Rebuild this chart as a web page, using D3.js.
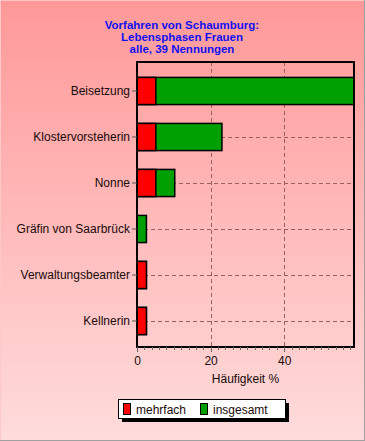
<!DOCTYPE html>
<html>
<head>
<meta charset="utf-8">
<script src="https://cdn.jsdelivr.net/npm/d3@7"></script>
<style>
  body { margin: 0; padding: 0; overflow: hidden; }
  svg { display: block; font-family: "Liberation Sans", Arial, sans-serif; }
</style>
</head>
<body>
<div id="chart"></div>
<script>
var titleLines = ["Vorfahren von Schaumburg:", "Lebensphasen Frauen", "alle, 39 Nennungen"];
var categories = ["Beisetzung", "Klostervorsteherin", "Nonne", "Gräfin von Saarbrück", "Verwaltungsbeamter", "Kellnerin"];
var insgesamt = [58.97, 23.08, 10.26, 2.56, 2.56, 2.56];
var mehrfach = [5.13, 5.13, 5.13, 0, 2.56, 2.56];
var xTicks = [0, 20, 40];
var seriesNames = ["mehrfach", "insgesamt"];
var xTitle = "Häufigkeit %";

var width = 365, height = 441;
var plot = {left: 137, top: 62, right: 354, bottom: 347};

var svg = d3.select("#chart").append("svg")
    .attr("width", width)
    .attr("height", height);

// background gradient
var grad = svg.append("defs").append("linearGradient")
    .attr("id", "bg").attr("x1", 0).attr("y1", 0).attr("x2", 0).attr("y2", 1);
grad.append("stop").attr("offset", "0%").attr("stop-color", "#ff9898");
grad.append("stop").attr("offset", "100%").attr("stop-color", "#ffdcdc");

svg.append("rect").attr("width", width).attr("height", height).attr("fill", "url(#bg)");
svg.append("line").attr("x1", 0).attr("y1", 0.5).attr("x2", width).attr("y2", 0.5).attr("stroke", "#ffc8c8");
svg.append("line").attr("x1", 0.5).attr("y1", 0).attr("x2", 0.5).attr("y2", height).attr("stroke", "#ffc8c8");
svg.append("line").attr("x1", width - 0.5).attr("y1", 0).attr("x2", width - 0.5).attr("y2", height).attr("stroke", "#a0a0a0");
svg.append("line").attr("x1", 0).attr("y1", height - 0.5).attr("x2", width).attr("y2", height - 0.5).attr("stroke", "#a0a0a0");

// title
svg.append("text")
    .attr("text-anchor", "middle")
    .attr("font-size", 11.5)
    .attr("font-weight", "bold")
    .attr("fill", "#1010f0")
    .selectAll("tspan")
    .data(titleLines)
    .enter().append("tspan")
    .attr("x", 182)
    .attr("y", function(d, i) { return 29 + i * 12; })
    .text(function(d) { return d; });

var x = d3.scaleLinear()
    .domain([0, d3.max(insgesamt)])
    .range([plot.left, plot.right]);

var y = d3.scaleBand()
    .domain(categories)
    .range([68, 344])
    .paddingInner(0.41)
    .paddingOuter(0.205);

var g = svg.append("g");

// grid lines
g.selectAll(".vgrid")
    .data(xTicks.filter(function(d) { return d > 0; }))
    .enter().append("line")
    .attr("x1", function(d) { return Math.round(x(d)) + 0.5; })
    .attr("x2", function(d) { return Math.round(x(d)) + 0.5; })
    .attr("y1", plot.top).attr("y2", plot.bottom)
    .attr("stroke", "#9a6060").attr("stroke-dasharray", "4,3");

g.selectAll(".hgrid")
    .data(categories)
    .enter().append("line")
    .attr("x1", plot.left).attr("x2", plot.right)
    .attr("y1", function(d) { return Math.round(y(d) + y.bandwidth() / 2) + 0.5; })
    .attr("y2", function(d) { return Math.round(y(d) + y.bandwidth() / 2) + 0.5; })
    .attr("stroke", "#9a6060").attr("stroke-dasharray", "4,3");

// bars: total first, multiple drawn on top
var rows = categories.map(function(c, i) { return {cat: c, total: insgesamt[i], multi: mehrfach[i]}; });

g.selectAll(".bar-total")
    .data(rows)
    .enter().append("rect")
    .attr("x", x(0))
    .attr("y", function(d) { return y(d.cat); })
    .attr("width", function(d) { return x(d.total) - x(0); })
    .attr("height", y.bandwidth())
    .attr("fill", "#00a000")
    .attr("stroke", "#000")
    .attr("stroke-width", 1.5);

g.selectAll(".bar-multi")
    .data(rows.filter(function(d) { return d.multi > 0; }))
    .enter().append("rect")
    .attr("x", x(0))
    .attr("y", function(d) { return y(d.cat); })
    .attr("width", function(d) { return x(d.multi) - x(0); })
    .attr("height", y.bandwidth())
    .attr("fill", "#ff0000")
    .attr("stroke", "#000")
    .attr("stroke-width", 1.5);

// plot frame
svg.append("rect")
    .attr("x", plot.left).attr("y", plot.top)
    .attr("width", plot.right - plot.left).attr("height", plot.bottom - plot.top)
    .attr("fill", "none").attr("stroke", "#000").attr("stroke-width", 2);

// y axis
var yAxis = svg.append("g")
    .attr("transform", "translate(" + plot.left + ",0)")
    .call(d3.axisLeft(y).tickSize(5).tickPadding(2).tickSizeOuter(0));
yAxis.select(".domain").remove();
yAxis.selectAll(".tick line").attr("stroke", "#555");
yAxis.selectAll("text")
    .attr("font-size", 12)
    .attr("font-family", "Liberation Sans, Arial, sans-serif")
    .attr("fill", "#1a0a0a");

// x axis, minor ticks every 2
var minor = d3.range(0, d3.max(insgesamt), 2);
svg.append("g")
    .attr("transform", "translate(0," + plot.bottom + ")")
    .selectAll("line")
    .data(minor)
    .enter().append("line")
    .attr("x1", function(d) { return Math.round(x(d)) + 0.5; })
    .attr("x2", function(d) { return Math.round(x(d)) + 0.5; })
    .attr("y1", 0)
    .attr("y2", function(d) { return d % 20 === 0 ? 5 : 3; })
    .attr("stroke", "#666");

var xAxis = svg.append("g")
    .attr("transform", "translate(0," + plot.bottom + ")")
    .call(d3.axisBottom(x).tickValues(xTicks).tickSize(0).tickPadding(9));
xAxis.select(".domain").remove();
xAxis.selectAll("text")
    .attr("font-size", 12)
    .attr("font-family", "Liberation Sans, Arial, sans-serif")
    .attr("fill", "#1a0a0a");

svg.append("text")
    .attr("x", (plot.left + plot.right) / 2)
    .attr("y", 383)
    .attr("text-anchor", "middle")
    .attr("font-size", 12)
    .attr("fill", "#1a0a0a")
    .text(xTitle);

// legend
var legend = svg.append("g").attr("transform", "translate(118,399)");
legend.append("rect").attr("x", 4).attr("y", 4).attr("width", 167).attr("height", 19).attr("fill", "#000");
legend.append("rect").attr("x", 0.5).attr("y", 0.5).attr("width", 167).attr("height", 19)
    .attr("fill", "#fff").attr("stroke", "#000");

var colors = ["#ff0000", "#00a000"];
var items = legend.selectAll(".item")
    .data(seriesNames)
    .enter().append("g")
    .attr("transform", function(d, i) { return "translate(" + (5 + i * 77) + ",0)"; });
items.append("rect")
    .attr("x", 0.5).attr("y", 4.5).attr("width", 7).attr("height", 11)
    .attr("fill", function(d, i) { return colors[i]; })
    .attr("stroke", "#000");
items.append("text")
    .attr("x", 13).attr("y", 14.5)
    .attr("font-size", 12)
    .attr("fill", "#1a0a0a")
    .text(function(d) { return d; });
</script>
</body>
</html>
